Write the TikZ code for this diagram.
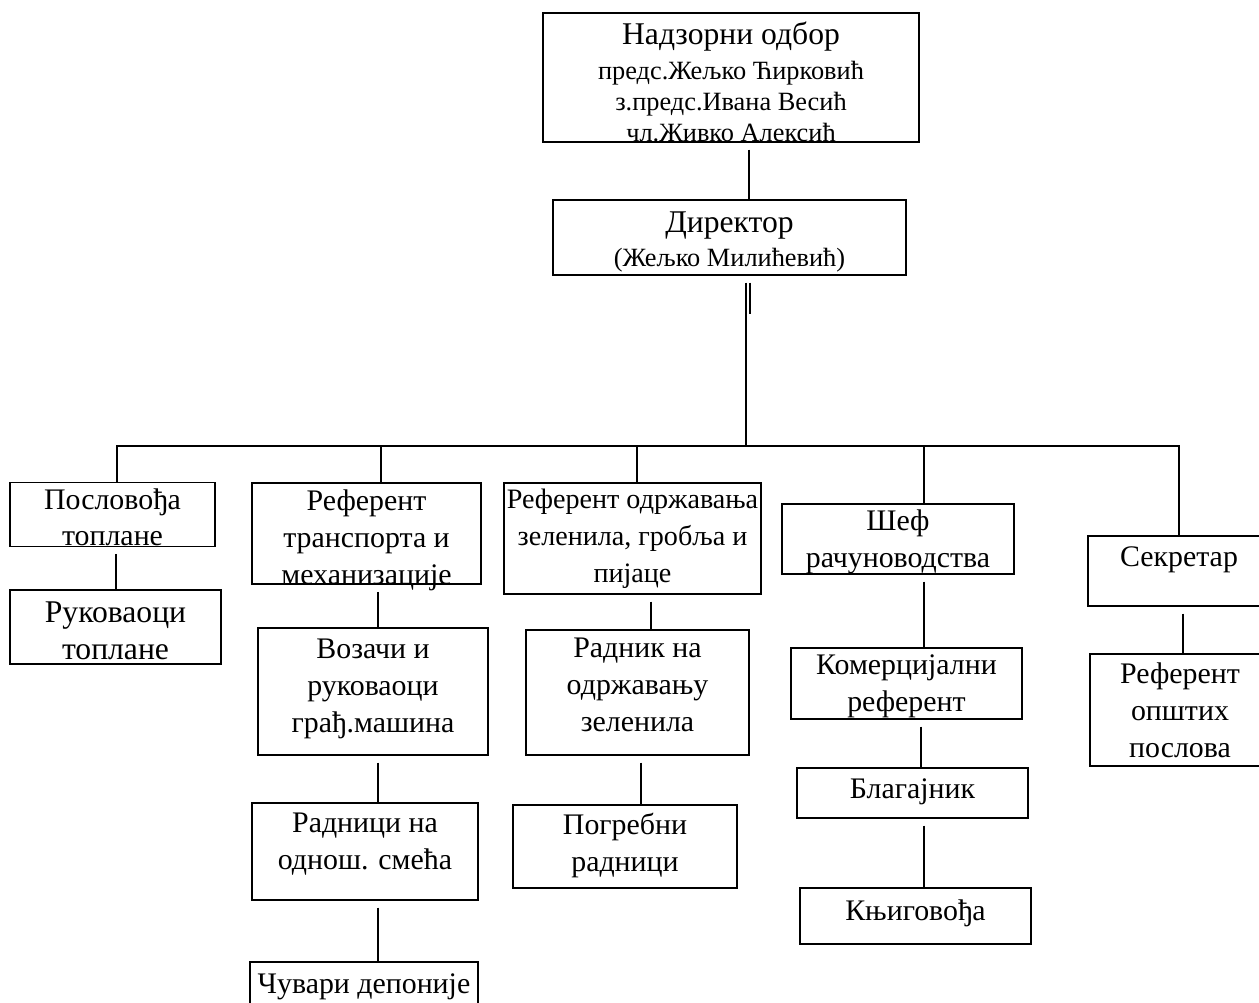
\documentclass[tikz,border=0pt]{standalone}
\usepackage{fontspec}
\setmainfont{Liberation Serif}
\newcommand{\orgbig}{\fontsize{18}{21}\selectfont}
\newcommand{\orgmid}{\fontsize{17}{21}\selectfont}
\newcommand{\orgnarrow}{\fontsize{16}{21}\selectfont}
\newcommand{\orgsmall}{\fontsize{15}{17.5}\selectfont}
\newcommand{\orgup}[1]{\rule{0pt}{#1}}% pushes a text block down a little

\begin{document}
\begin{tikzpicture}[x=0.02cm, y=-0.02cm,
    box/.style 2 args={draw, line width=0.8pt, align=center, inner sep=0pt,
      font=\orgmid, minimum width=#1cm, minimum height=#2cm},
    link/.style={line width=1pt},
    gap/.style={shorten <=0.14cm}]

            \useasboundingbox (0,0) rectangle (1259,1003);
            \clip (0,0) rectangle (1259,1003);

            % Управа
            \node[box={7.52}{2.58}, font=\orgsmall] (nadzor) at (731,77.5) {{\orgbig\orgup{17.8pt}Надзорни одбор}\\[2.3pt]предс.Жељко Ћирковић\\з.предс.Ивана Весић\\чл.Живко Алексић};
            \node[box={7.06}{1.5}, font=\orgsmall] (direktor) at (729.5,237.5) {{\orgbig\orgup{17pt}Директор}\\[1.5pt](Жељко Милићевић)};
            \coordinate (bus) at (746,446);

            % Први ниво
            \node[box={4.1}{1.26}] (poslov) at (112.5,514.5) {\orgup{15pt}Пословођа\\топлане};
            \node[box={4.58}{2.02}, text depth=0pt] (reftr) at (366.5,533.5) {\orgup{15.6pt}Референт\\транспорта и\\механизације};
            \node[box={5.14}{2.22}, font=\orgnarrow] (refodr) at (632.5,538.5) {Референт одржавања\\зеленила, гробља и\\пијаце};
            \node[box={4.64}{1.4}, text depth=0pt] (sef) at (898,539) {Шеф\\рачуноводства};
            \node[box={3.64}{1.4}, text depth=16.6pt] (sekr) at (1179,571) {Секретар};

            % Други ниво
            \node[box={4.22}{1.48}, font=\orgbig] (rukov) at (115.5,627) {\orgup{16.5pt}Руковаоци\\топлане};
            \node[box={4.6}{2.54}, text depth=6.5pt] (vozaci) at (373,691.5) {Возачи и\\руковаоци\\грађ.машина};
            \node[box={4.52}{1.94}, text depth=12pt] (radnici) at (365,851.5) {Радници на\\однош. смећа};
            \node[box={4.56}{1.06}, text depth=6pt] (cuvari) at (364,988.5) {Чувари депоније};
            \node[box={4.46}{2.5}, text depth=8.5pt] (radnik) at (637.5,692.5) {Радник на\\одржавању\\зеленила};
            \node[box={4.48}{1.66}, text depth=4.5pt] (pogreb) at (625,846.5) {Погребни\\радници};
            \node[box={4.62}{1.42}, text depth=0pt] (komerc) at (906.5,683.5) {Комерцијални\\референт};
            \node[box={4.62}{1.0}, text depth=4.5pt] (blag) at (912.5,793) {Благајник};
            \node[box={4.62}{1.12}, text depth=6.7pt] (knjig) at (915.5,916) {Књиговођа};
            \node[box={3.6}{2.24}] (refop) at (1180,710) {Референт\\општих\\послова};

            % Везе
            \draw[link, gap] (nadzor.south -| 749,0) -- (direktor.north -| 749,0);
            \draw[link, gap] (direktor.south -| bus) -- (bus);
            \draw[link, gap] (direktor.south -| 750,0) -- (750,314);
            \draw[link] (poslov.north -| 117,0) |- (bus) -| (sekr.north -| 1179,0);
            \draw[link] (bus -| 381,0) -- (reftr.north -| 381,0);
            \draw[link] (bus -| 637,0) -- (refodr.north -| 637,0);
            \draw[link] (bus -| 924,0) -- (sef.north -| 924,0);

            \draw[link, gap] (poslov.south -| 116,0) -- (rukov.north -| 116,0);
            \draw[link, gap] (reftr.south -| 378,0) -- (vozaci.north -| 378,0);
            \draw[link, gap] (vozaci.south -| 378,0) -- (radnici.north -| 378,0);
            \draw[link, gap] (radnici.south -| 378,0) -- (cuvari.north -| 378,0);
            \draw[link, gap] (refodr.south -| 651,0) -- (radnik.north -| 651,0);
            \draw[link, gap] (radnik.south -| 641,0) -- (pogreb.north -| 641,0);
            \draw[link, gap] (sef.south -| 924,0) -- (komerc.north -| 924,0);
            \draw[link, gap] (komerc.south -| 921,0) -- (blag.north -| 921,0);
            \draw[link, gap] (blag.south -| 924,0) -- (knjig.north -| 924,0);
            \draw[link, gap] (sekr.south -| 1183,0) -- (refop.north -| 1183,0);

\end{tikzpicture}
\end{document}
